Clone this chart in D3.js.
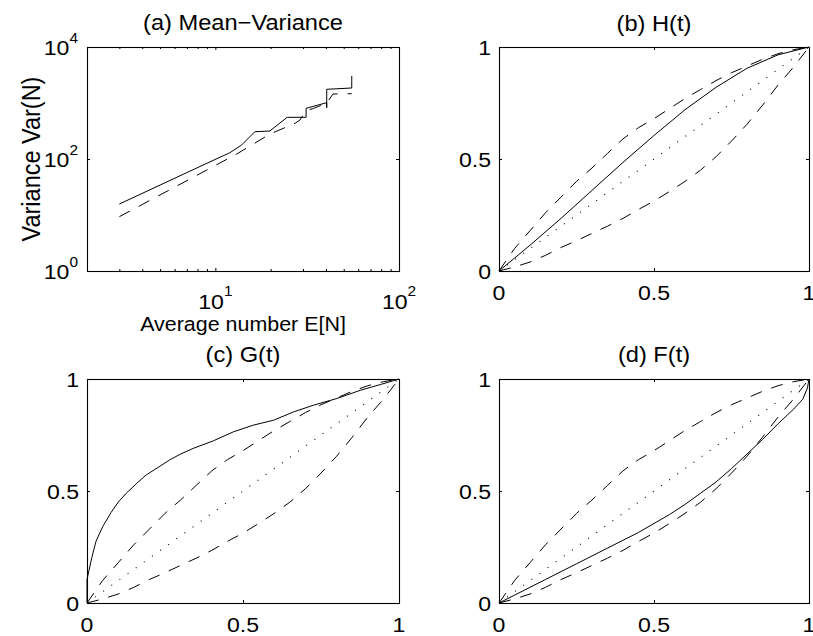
<!DOCTYPE html>
<html><head><meta charset="utf-8">
<script src="https://cdn.jsdelivr.net/npm/d3@7"></script>
<style>
body{margin:0;background:#fff}
svg{display:block}
text{font-family:"Liberation Sans",Arial,Helvetica,sans-serif;fill:#000}
</style></head><body>
<svg id="chart" width="813" height="636"></svg>
<script>
// ---------- data ----------
// (a) Mean-Variance (log-log)
const meanSolid = [3.0, 9.0, 12.0, 13.9, 16.4, 19.8, 24.6, 31.2, 31.2, 40.4, 40.4, 40.4, 55.3, 55.3];
const varSolid  = [15.7, 84, 129.6, 177.8, 307, 316, 555, 555, 804, 1012, 824, 1757, 1853, 3036];
const meanDashed = [3.0, 13.07, 19.85, 27.15, 28.9, 31.2, 34.2, 40.4, 43.7, 55.3];
const varDashed  = [9.32, 122.8, 279.5, 434, 497, 735, 798, 1000, 1448, 1466];

// confidence bands shared by (b), (c), (d)
const bandT     = [0, 0.05, 0.1, 0.15, 0.2, 0.25, 0.3, 0.35, 0.4, 0.45, 0.5, 0.55, 0.6, 0.65, 0.7, 0.75, 0.8, 0.85, 0.9, 0.95, 1];
const bandUpper = [0, 0.10, 0.18, 0.26, 0.33, 0.40, 0.46, 0.525, 0.59, 0.64, 0.68, 0.725, 0.77, 0.81, 0.85, 0.885, 0.915, 0.945, 0.97, 0.988, 1];
const bandLower = [0, 0.018, 0.04, 0.07, 0.105, 0.135, 0.168, 0.20, 0.235, 0.275, 0.312, 0.355, 0.40, 0.45, 0.51, 0.58, 0.655, 0.74, 0.83, 0.91, 1];
const diagT = [0, 1];

// (b) H(t)
const hT     = [0, 0.1, 0.2, 0.3, 0.4, 0.5, 0.6, 0.7, 0.8, 0.9, 1];
const hSolid = [0, 0.115, 0.235, 0.36, 0.485, 0.605, 0.72, 0.82, 0.905, 0.965, 1];
// (c) G(t)
const gT     = [0, 0, 0.015, 0.029, 0.05, 0.077, 0.1, 0.126, 0.16, 0.19, 0.23, 0.265, 0.3, 0.34, 0.405, 0.469, 0.533, 0.598, 0.662, 0.726, 0.801, 0.877, 0.94, 1];
const gSolid = [0, 0.105, 0.2, 0.276, 0.34, 0.404, 0.45, 0.49, 0.535, 0.572, 0.607, 0.639, 0.665, 0.69, 0.724, 0.764, 0.794, 0.816, 0.853, 0.883, 0.913, 0.95, 0.975, 1];
// (d) F(t)
const fT     = [0, 0.05, 0.1, 0.15, 0.2, 0.25, 0.3, 0.35, 0.4, 0.45, 0.5, 0.55, 0.6, 0.65, 0.7, 0.75, 0.8, 0.85, 0.9, 0.95, 0.98, 0.995, 1];
const fSolid = [0, 0.035, 0.07, 0.105, 0.14, 0.175, 0.21, 0.245, 0.28, 0.315, 0.355, 0.395, 0.44, 0.49, 0.54, 0.6, 0.665, 0.73, 0.8, 0.865, 0.91, 0.96, 1];

// ticks
const linTicks = [0, 0.5, 1];
const linTickLabels = ["0", "0.5", "1"];
const logXMajor = [10, 100];
const logXMajorExp = ["1", "2"];
const logXMinor = [3, 4, 5, 6, 7, 8, 9, 20, 30, 40, 50, 60, 70, 80, 90];
const logYMajor = [1, 100, 10000];
const logYMajorExp = ["0", "2", "4"];

const titles = ["(a) Mean\u2212Variance", "(b) H(t)", "(c) G(t)", "(d) F(t)"];
const xLabelA = "Average number E[N]";
const yLabelA = "Variance Var(N)";

// ---------- drawing ----------
const svg = d3.select("#chart");
const FS_TICK = 21, FS_TITLE = 21.5, FS_XLAB = 19.5, FS_YLAB = 23.5, SUP = 14, TICK = 3;
const SX = 1.1; // glyphs in the original are slightly wide
const panels = {
  a: {x0: 87, x1: 399, y0: 47, y1: 271},
  b: {x0: 499, x1: 809, y0: 47, y1: 271},
  c: {x0: 87, x1: 399, y0: 379, y1: 603},
  d: {x0: 499, x1: 809, y0: 379, y1: 603}
};

function label(x, y, size, anchor, rot) {
  return svg.append("text")
    .attr("transform", `translate(${x},${y}) scale(${SX},1)` + (rot ? ` rotate(${rot})` : ""))
    .attr("text-anchor", anchor).attr("font-size", size);
}
function frame(p) {
  svg.append("rect").attr("x", p.x0 + 0.5).attr("y", p.y0 + 0.5)
    .attr("width", p.x1 - p.x0).attr("height", p.y1 - p.y0)
    .attr("fill", "none").attr("stroke", "#000").attr("stroke-width", 1.1);
}
function ticks(p, x, y, xv, yv, len) {
  const noDom = g => g.select(".domain").remove();
  const st = g => g.selectAll("line").attr("stroke", "#000");
  svg.append("g").attr("transform", `translate(0,${p.y1})`).call(d3.axisBottom(x).tickValues(xv).tickSize(-len).tickFormat("")).call(noDom).call(st);
  svg.append("g").attr("transform", `translate(0,${p.y0})`).call(d3.axisTop(x).tickValues(xv).tickSize(-len).tickFormat("")).call(noDom).call(st);
  svg.append("g").attr("transform", `translate(${p.x0},0)`).call(d3.axisLeft(y).tickValues(yv).tickSize(-len).tickFormat("")).call(noDom).call(st);
  svg.append("g").attr("transform", `translate(${p.x1},0)`).call(d3.axisRight(y).tickValues(yv).tickSize(-len).tickFormat("")).call(noDom).call(st);
}
function curve(x, y, xs, ys, style) {
  const pts = xs.map((d, i) => [x(d), y(ys[i])]);
  const path = svg.append("path").attr("d", d3.line()(pts))
    .attr("fill", "none").attr("stroke", "#000").attr("stroke-width", 1);
  if (style === "dash") path.attr("stroke-dasharray", "12,10");
  if (style === "dot") path.attr("stroke-dasharray", "1,9").attr("stroke-width", 1.1);
}

// panel (a)
{
  const p = panels.a;
  const x = d3.scaleLog().domain([2, 100]).range([p.x0, p.x1]);
  const y = d3.scaleLog().domain([1, 10000]).range([p.y1, p.y0]);
  ticks(p, x, y, logXMajor, logYMajor, TICK);
  ticks(p, x, y, logXMinor, [], 2);
  curve(x, y, meanSolid, varSolid, "solid");
  curve(x, y, meanDashed, varDashed, "dash");
  frame(p);
  logXMajor.forEach((v, i) => {
    const t = label(x(v), p.y1 + 37.5, FS_TICK, "middle");
    t.append("tspan").text("10");
    t.append("tspan").attr("dy", -12.5).attr("font-size", SUP).text(logXMajorExp[i]);
  });
  logYMajor.forEach((v, i) => {
    const t = label(p.x0 - 9, y(v) + 8, FS_TICK, "end");
    t.append("tspan").text("10");
    t.append("tspan").attr("dy", -12.5).attr("font-size", SUP).text(logYMajorExp[i]);
  });
  label((p.x0 + p.x1) / 2, 30, FS_TITLE, "middle").text(titles[0]);
  label((p.x0 + p.x1) / 2, 331, FS_XLAB, "middle").text(xLabelA);
  label(39.5, (p.y0 + p.y1) / 2, FS_YLAB, "middle", -90).text(yLabelA);
}

// panels (b),(c),(d)
[["b", hT, hSolid, 1, 30.5], ["c", gT, gSolid, 2, 362], ["d", fT, fSolid, 3, 362]].forEach(([k, ts, vs, ti, tb]) => {
  const p = panels[k];
  const x = d3.scaleLinear().domain([0, 1]).range([p.x0, p.x1]);
  const y = d3.scaleLinear().domain([0, 1]).range([p.y1, p.y0]);
  ticks(p, x, y, linTicks, linTicks, TICK);
  curve(x, y, diagT, diagT, "dot");
  curve(x, y, bandT, bandUpper, "dash");
  curve(x, y, bandT, bandLower, "dash");
  curve(x, y, ts, vs, "solid");
  frame(p);
  linTicks.forEach((v, i) => {
    label(x(v), p.y1 + 29, FS_TICK, "middle").text(linTickLabels[i]);
    label(p.x0 - 8, y(v) + 7.5, FS_TICK, "end").text(linTickLabels[i]);
  });
  label((p.x0 + p.x1) / 2, tb, FS_TITLE, "middle").text(titles[ti]);
});
</script>
</body></html>
